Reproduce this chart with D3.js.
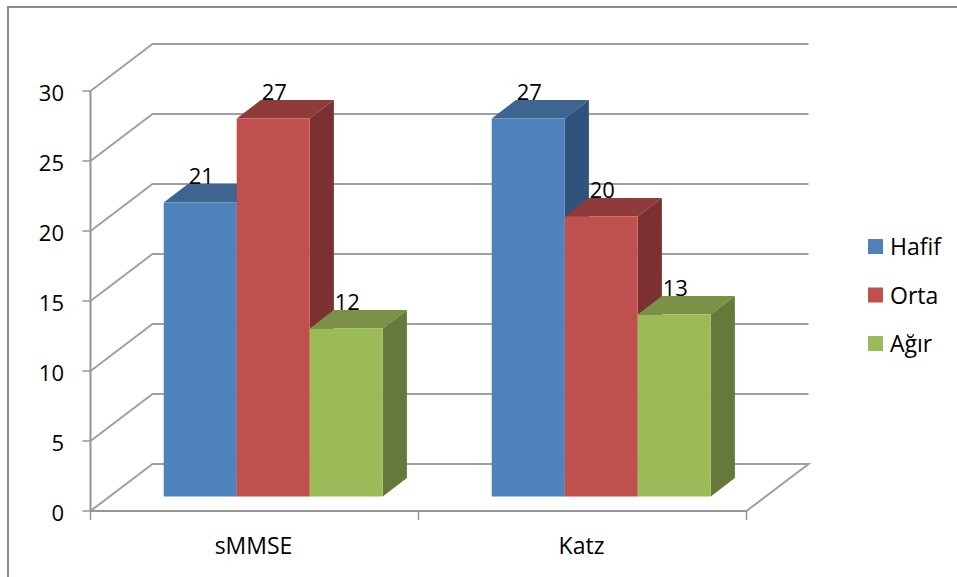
<!DOCTYPE html>
<html>
<head>
<meta charset="utf-8">
<script src="https://cdn.jsdelivr.net/npm/d3@7/dist/d3.min.js"></script>
<style>
  html, body { margin: 0; padding: 0; background: #fff; }
  svg { display: block; }
  text { font-family: "Open Sans", "Noto Sans", sans-serif; fill: #000; }
</style>
</head>
<body>
<svg id="chart" width="957" height="577"></svg>
<script>
const categories = ["sMMSE", "Katz"];
const seriesNames = ["Hafif", "Orta", "Ağır"];
const hafif = [21, 27];
const orta = [27, 20];
const agir = [12, 13];
const seriesValues = [hafif, orta, agir];
const yTicks = [0, 5, 10, 15, 20, 25, 30];

const frontColors = ["#4f81bd", "#c0504d", "#9bbb59"];
const topColors = ["#3e6490", "#8f3b39", "#7a9146"];
const sideColors = ["#30527c", "#7b3130", "#657a3a"];

const gridColor = "#a0a0a0";
const axisColor = "#969696";
const frameColor = "#8a8a8a";

const svg = d3.select("#chart");

// Front plane of the chart box
const yScale = d3.scaleLinear().domain([0, 30]).range([511, 91]);
const xFront = d3.scaleLinear().domain([0, categories.length]).range([90.5, 746.5]);

// Oblique depth: 0 is the front plane, 1 is the back wall
const depthX = d3.scaleLinear().domain([0, 1]).range([0, 62]);
const depthY = d3.scaleLinear().domain([0, 1]).range([0, -47]);
const barNear = 0.31, barFar = 0.70;

const project = (x, y, d) => [x + depthX(d), y + depthY(d)];
const line = d3.line();

// Frame: only the top and left edges fall inside the page
svg.append("path").attr("d", line([[8, 577], [8, 7], [957, 7]]))
  .attr("fill", "none").attr("stroke", frameColor).attr("stroke-width", 2);

// Gridlines: left wall diagonal plus back wall
const [x0, x1] = xFront.range();
yTicks.forEach(t => {
  const y = yScale(t);
  const pts = [[x0, y], project(x0, y, 1), project(x1, y, 1)];
  if (t === 0) pts.push([x1, y]);
  svg.append("path").attr("d", line(pts)).attr("fill", "none")
    .attr("stroke", gridColor).attr("stroke-width", 2);
});

// Value axis and category axis with tick marks
svg.append("path").attr("d", line([[x0, yScale(30)], [x0, yScale(0)]]))
  .attr("stroke", axisColor).attr("stroke-width", 2).attr("fill", "none");
svg.append("path").attr("d", line([[x0, yScale(0)], [x1, yScale(0)]]))
  .attr("stroke", axisColor).attr("stroke-width", 2).attr("fill", "none");
yTicks.forEach(t => {
  svg.append("path").attr("d", line([[x0 - 8, yScale(t)], [x0, yScale(t)]]))
    .attr("stroke", axisColor).attr("stroke-width", 1.5);
  svg.append("text").attr("x", 64).attr("y", yScale(t) + 2).attr("dy", "0.36em")
    .attr("text-anchor", "end").attr("font-size", 22).text(t);
});
d3.range(categories.length + 1).forEach(i => {
  svg.append("path").attr("d", line([[xFront(i), yScale(0)], [xFront(i), yScale(0) + 9]]))
    .attr("stroke", axisColor).attr("stroke-width", 1.5);
});
categories.forEach((c, i) => {
  svg.append("text").attr("x", (xFront(i) + xFront(i + 1)) / 2 - 1).attr("y", 554)
    .attr("text-anchor", "middle").attr("font-size", 23).text(c);
});

// Bars: categories share the plot width, each holds three touching series
const band = d3.scaleBand().domain(categories)
  .range([x0 + depthX(barNear), x1 + depthX(barNear)]).paddingInner(0).paddingOuter(0);
const inner = d3.scaleBand().domain(seriesNames)
  .range([54, band.bandwidth() - 55]).padding(0);

categories.forEach((c, ci) => {
  seriesNames.forEach((s, si) => {
    const v = seriesValues[si][ci];
    const xa = band(c) + inner(s);
    const xb = xa + inner.bandwidth();
    const yTop = yScale(v) + depthY(barNear);
    const yBase = yScale(0) + depthY(barNear);
    const dd = barFar - barNear;
    const back = (p) => [p[0] + depthX(dd), p[1] + depthY(dd)];
    const g = svg.append("g").attr("class", "bar");
    g.append("path").attr("fill", topColors[si])
      .attr("d", line([[xa, yTop], [xb, yTop], back([xb, yTop]), back([xa, yTop])]) + "Z");
    g.append("path").attr("fill", sideColors[si])
      .attr("d", line([[xb, yTop], back([xb, yTop]), back([xb, yBase]), [xb, yBase]]) + "Z");
    g.append("path").attr("fill", frontColors[si])
      .attr("d", line([[xa, yTop], [xb, yTop], [xb, yBase], [xa, yBase]]) + "Z");
  });
});

// Value labels sit above each bar's front edge, drawn after all bars
categories.forEach((c, ci) => {
  seriesNames.forEach((s, si) => {
    const v = seriesValues[si][ci];
    const xa = band(c) + inner(s);
    svg.append("text")
      .attr("x", xa + inner.bandwidth() / 2 + 1)
      .attr("y", yScale(v) + depthY(barNear) - 18)
      .attr("text-anchor", "middle").attr("font-size", 22).text(v);
  });
});

// Legend
const legendY = d3.scalePoint().domain(seriesNames).range([254, 351]);
seriesNames.forEach((s, i) => {
  svg.append("rect").attr("x", 868).attr("y", legendY(s) - 15).attr("width", 15).attr("height", 15)
    .attr("fill", frontColors[i]);
  svg.append("text").attr("x", 890).attr("y", legendY(s) + 1)
    .attr("font-size", 23).text(s);
});
</script>
</body>
</html>
